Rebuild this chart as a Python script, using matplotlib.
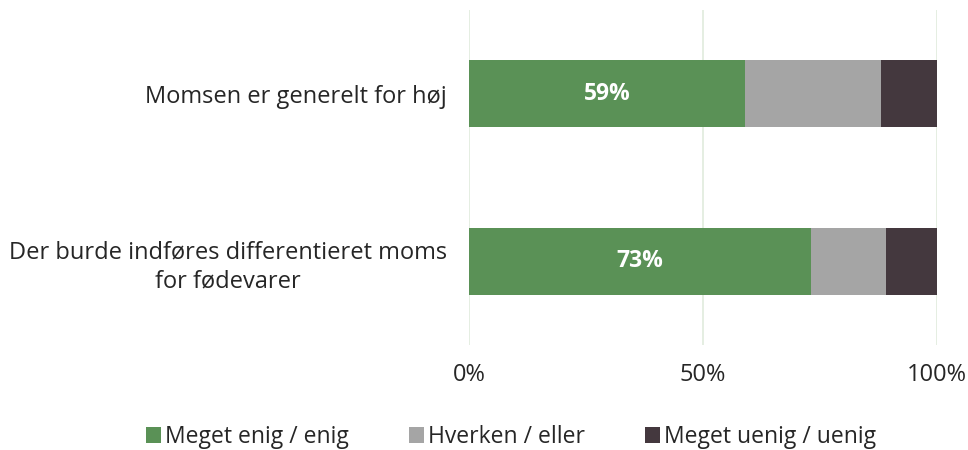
import matplotlib
matplotlib.use("Agg")
import matplotlib.pyplot as plt
from matplotlib.ticker import FuncFormatter

categories = ["Momsen er generelt for høj",
              "Der burde indføres differentieret moms\nfor fødevarer"]
series_names = ["Meget enig / enig", "Hverken / eller", "Meget uenig / uenig"]
enig = [59, 73]
hverken = [29, 16]
uenig = [12, 11]
colors = ["#5A9156", "#A5A5A5", "#44383E"]

plt.rcParams['font.family'] = ['Open Sans', 'DejaVu Sans']

fig = plt.figure(figsize=(9.68, 4.5), dpi=100)
ax = fig.add_axes([469/968, 1-345/450, (937-469)/968, 335/450])

y = list(range(len(categories)))
left = [0]*len(categories)
for vals, name, c in zip([enig, hverken, uenig], series_names, colors):
    ax.barh(y, vals, left=left, height=0.4, color=c, label=name, zorder=3)
    left = [l+v for l, v in zip(left, vals)]

for yi, v in zip(y, enig):
    ax.text(v/2, yi, f"{v}%", ha="center", va="center", color="white",
            fontsize=16.5, fontweight="bold", zorder=4)

ax.set_xlim(0, 100)
ax.set_ylim(len(categories)-0.5, -0.5)
ax.set_xticks([0, 50, 100])
ax.xaxis.set_major_formatter(FuncFormatter(lambda v, p: f"{int(v)}%"))
ax.set_yticks(y)
ax.set_yticklabels(categories, fontsize=17, color="#262626", multialignment="center",
                   linespacing=1.3)
ax.tick_params(axis="x", labelsize=17, colors="#262626", length=0, pad=13)
ax.tick_params(axis="y", length=0, pad=16)
ax.grid(axis="x", color="#E0EBDD", linewidth=1.2, zorder=0)
for s in ax.spines.values():
    s.set_visible(False)

leg = fig.legend(loc="center", bbox_to_anchor=(511/968, 1-437/450), ncol=3, frameon=False,
                 fontsize=16.5, handlelength=0.65, handleheight=0.65, handletextpad=0.2,
                 columnspacing=2.6)
for t in leg.get_texts():
    t.set_color("#262626")

fig.savefig("out.png", dpi=100)
